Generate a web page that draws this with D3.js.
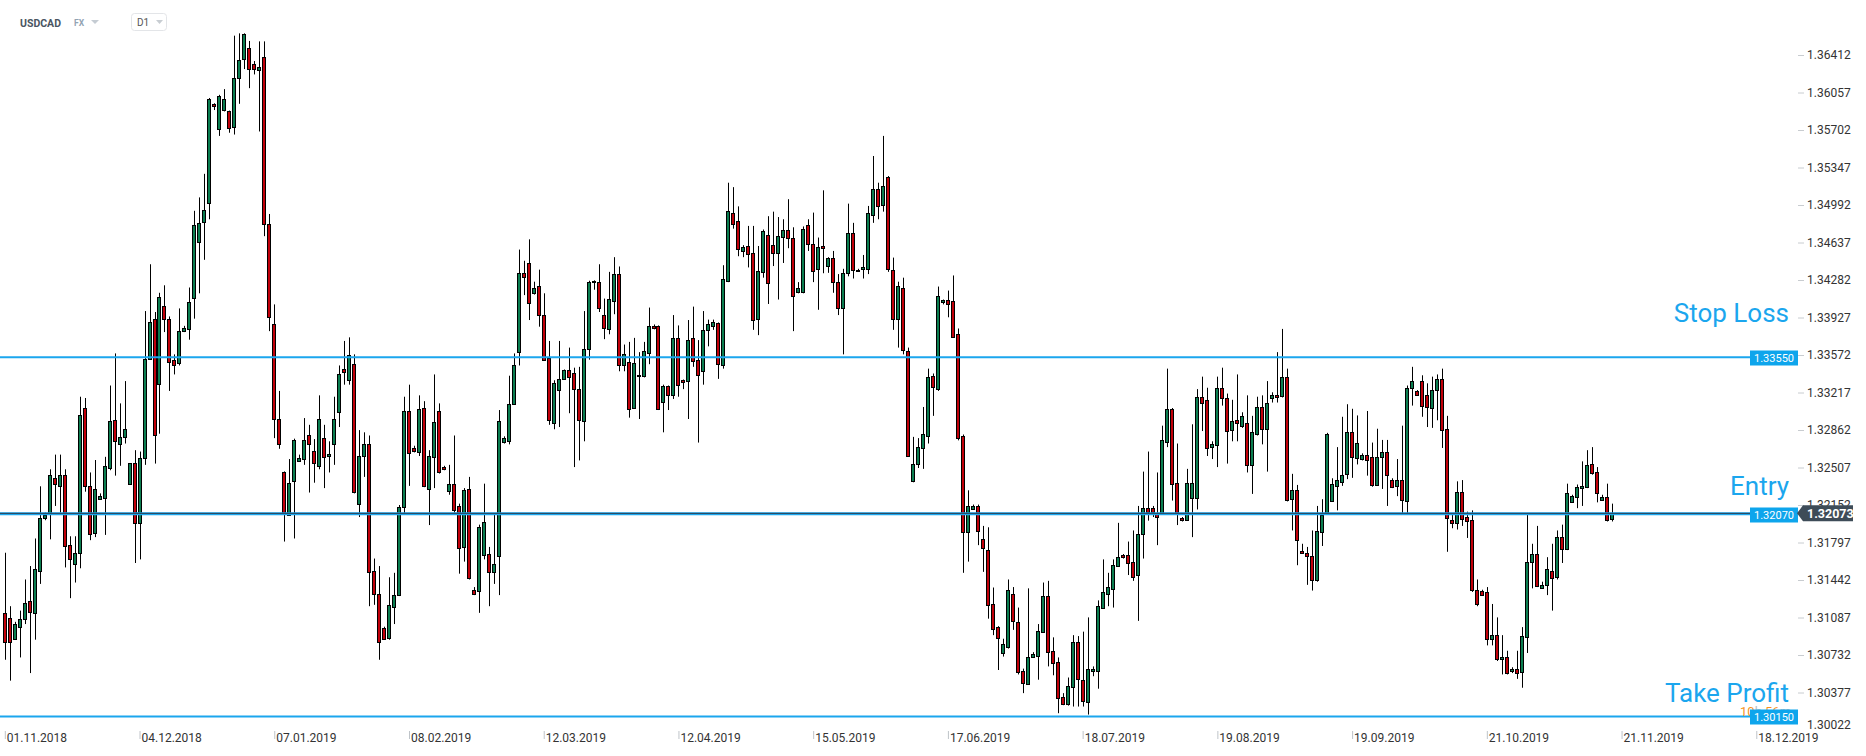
<!DOCTYPE html>
<html><head><meta charset="utf-8">
<script src="https://cdn.jsdelivr.net/npm/d3@7"></script>
<style>body{margin:0;background:#fff;overflow:hidden}svg{display:block;font-family:Roboto,"Noto Sans",sans-serif}</style>
</head><body><svg id="chart" width="1866" height="756"></svg>
<script>
// ---- data ----
const dateLabels = ["01.11.2018","04.12.2018","07.01.2019","08.02.2019","12.03.2019","12.04.2019","15.05.2019","17.06.2019","18.07.2019","19.08.2019","19.09.2019","21.10.2019","21.11.2019","18.12.2019"];
const dateTickIdx = [0,27,54,81,108,135,162,189,216,243,270,297,324,351];
const priceTicks = [1.36412,1.36057,1.35702,1.35347,1.34992,1.34637,1.34282,1.33927,1.33572,1.33217,1.32862,1.32507,1.32152,1.31797,1.31442,1.31087,1.30732,1.30377,1.30022];
const levelNames = ["Stop Loss","Entry","Take Profit"];
const levelPrices = [1.33550,1.32070,1.30150];
const lastPrice = 1.32073;

const open = [1.31131,1.31080,1.30886,1.31004,1.31067,1.31245,1.31131,1.31523,1.32034,1.32067,
1.32405,1.32333,1.32439,1.31772,1.31595,1.31700,1.33072,1.32333,1.31878,1.32211,
1.32219,1.32502,1.32954,1.32734,1.32797,1.32346,1.32549,1.31983,1.32599,1.33536,
1.33916,1.33291,1.34034,1.33916,1.33528,1.33494,1.33798,1.33819,1.34114,1.34642,
1.34823,1.35005,1.35946,1.35709,1.35887,1.35878,1.35730,1.36195,1.36368,1.36482,
1.36330,1.36266,1.36393,1.34810,1.33865,1.32966,1.32460,1.32059,1.32376,1.32574,
1.32587,1.32819,1.32667,1.32515,1.32789,1.32616,1.32734,1.33030,1.33439,1.33333,
1.33485,1.32165,1.32608,1.32726,1.31531,1.31308,1.30991,1.30890,1.31186,1.31299,
1.32131,1.33042,1.32692,1.32658,1.33072,1.32300,1.32608,1.33038,1.32511,1.32291,
1.32354,1.32143,1.31755,1.32300,1.31350,1.31342,1.31671,1.31688,1.31519,1.31666,
1.32747,1.32755,1.33114,1.33599,1.34350,1.34443,1.34156,1.34224,1.33950,1.33544,
1.32924,1.33241,1.33346,1.33430,1.33397,1.33249,1.32954,1.33629,1.34275,1.34262,
1.33950,1.33823,1.34085,1.34338,1.33473,1.33506,1.33072,1.33367,1.33367,1.33587,
1.33844,1.33844,1.33122,1.33274,1.33198,1.33734,1.33333,1.33325,1.33734,1.33523,
1.33418,1.33810,1.33840,1.33874,1.33485,1.34275,1.34916,1.34844,1.34549,1.34604,
1.34540,1.33916,1.34359,1.34705,1.34612,1.34540,1.34688,1.34751,1.34675,1.34169,
1.34169,1.34802,1.34625,1.34380,1.34604,1.34414,1.34486,1.34266,1.34021,1.34350,
1.34726,1.34380,1.34380,1.34388,1.34895,1.35140,1.34992,1.35254,1.34380,1.33916,
1.34211,1.33612,1.32376,1.32536,1.32692,1.32810,1.33376,1.33249,1.34076,1.34097,
1.34085,1.33768,1.32806,1.31899,1.32114,1.32143,1.31827,1.31730,1.31215,1.30996,
1.30751,1.30814,1.31308,1.31046,1.30582,1.30464,1.30717,1.30730,1.30953,1.31291,
1.30772,1.30666,1.30337,1.30266,1.30434,1.30856,1.30498,1.30287,1.30582,1.30574,
1.31181,1.31312,1.31363,1.31574,1.31679,1.31679,1.31608,1.31498,1.31878,1.32122,
1.32122,1.32067,1.32072,1.32747,1.33063,1.32363,1.32025,1.32017,1.32219,1.32219,
1.33177,1.33144,1.32709,1.32726,1.33262,1.33169,1.32861,1.32954,1.32903,1.32924,
1.32523,1.32831,1.33084,1.32874,1.33169,1.33198,1.33177,1.33367,1.32207,1.32291,
1.31721,1.31700,1.31671,1.31439,1.31899,1.32067,1.32194,1.32333,1.32376,1.32439,
1.32840,1.32599,1.32587,1.32629,1.32608,1.32346,1.32599,1.32650,1.32388,1.32333,
1.32388,1.32194,1.33262,1.33232,1.33325,1.33190,1.33072,1.33241,1.33346,1.32869,
1.32008,1.31983,1.32278,1.32038,1.32008,1.31350,1.31342,1.31329,1.30886,1.30920,
1.30696,1.30717,1.30582,1.30595,1.30570,1.30907,1.31616,1.31688,1.31371,1.31392,
1.31531,1.31468,1.31848,1.31730,1.32186,1.32228,1.32312,1.32321,1.32536,1.32460,
1.32202,1.32228,1.32017];

const high = [1.31700,1.31194,1.31046,1.31152,1.31447,1.31574,1.31835,1.32329,1.32080,1.32490,
1.32629,1.32629,1.32490,1.31856,1.31856,1.33177,1.33165,1.32460,1.32578,1.32262,
1.32608,1.33283,1.33587,1.33114,1.33325,1.32549,1.32671,1.32658,1.33988,1.34431,
1.33979,1.34161,1.34232,1.33937,1.33578,1.34013,1.33848,1.34211,1.34937,1.35064,
1.35287,1.36005,1.35955,1.36035,1.36089,1.35886,1.36595,1.36617,1.36617,1.36545,
1.36355,1.36541,1.36541,1.34907,1.34051,1.33232,1.32470,1.32587,1.32780,1.32629,
1.32975,1.32911,1.32776,1.33190,1.32911,1.32755,1.33177,1.33473,1.33705,1.33739,
1.33578,1.32861,1.32840,1.32810,1.31645,1.31574,1.31000,1.31468,1.31510,1.32152,
1.33177,1.33291,1.32713,1.33190,1.33135,1.32671,1.33388,1.33114,1.32523,1.32532,
1.32810,1.32165,1.32312,1.32418,1.31375,1.31966,1.32354,1.31755,1.32059,1.33051,
1.32802,1.33376,1.33587,1.34570,1.34464,1.34667,1.34266,1.34380,1.34156,1.33705,
1.33333,1.33705,1.33435,1.33642,1.33452,1.33460,1.33988,1.34275,1.34279,1.34431,
1.34106,1.34359,1.34498,1.34410,1.33671,1.33696,1.33734,1.33599,1.33696,1.34021,
1.33861,1.33852,1.33291,1.33283,1.33950,1.33852,1.33340,1.33903,1.34030,1.33713,
1.33988,1.33907,1.33907,1.33880,1.34422,1.35203,1.35161,1.34979,1.34612,1.34794,
1.34794,1.34604,1.34760,1.34886,1.34929,1.34878,1.34857,1.35047,1.34781,1.34262,
1.34789,1.34857,1.34920,1.34684,1.35131,1.34498,1.34557,1.34338,1.34388,1.35005,
1.34823,1.34388,1.34519,1.34983,1.35456,1.35203,1.35646,1.35266,1.34494,1.34266,
1.34304,1.33642,1.32797,1.32785,1.33080,1.33443,1.33397,1.34220,1.34097,1.34182,
1.34325,1.33823,1.32819,1.32291,1.32156,1.32156,1.31954,1.31941,1.31371,1.31005,
1.30886,1.31447,1.31375,1.31181,1.30603,1.31363,1.30759,1.31025,1.31418,1.31434,
1.30899,1.30709,1.30371,1.30519,1.30920,1.30911,1.30953,1.31088,1.30624,1.31249,
1.31637,1.31510,1.31637,1.31983,1.31688,1.31806,1.31911,1.32143,1.32468,1.32658,
1.32143,1.32460,1.32903,1.33443,1.33070,1.32734,1.32038,1.32494,1.32916,1.33249,
1.33367,1.33262,1.32755,1.33367,1.33452,1.33207,1.33148,1.33388,1.33030,1.33190,
1.32996,1.33177,1.33190,1.33325,1.33219,1.33599,1.33819,1.33443,1.32447,1.32342,
1.31785,1.31755,1.31911,1.32143,1.32207,1.32835,1.32405,1.32700,1.32987,1.33106,
1.33063,1.33000,1.32641,1.33042,1.32743,1.32874,1.32768,1.32768,1.32405,1.32587,
1.32903,1.33283,1.33460,1.33240,1.33380,1.33304,1.33367,1.33388,1.33443,1.32996,
1.32067,1.32376,1.32388,1.32089,1.32101,1.31447,1.31350,1.31375,1.31215,1.31088,
1.30920,1.30772,1.30616,1.30772,1.30996,1.32067,1.31785,1.31954,1.31426,1.31658,
1.31785,1.31911,1.31966,1.32354,1.32249,1.32346,1.32565,1.32671,1.32700,1.32511,
1.32249,1.32354,1.32165];

const low = [1.30687,1.30489,1.30877,1.30709,1.31025,1.30561,1.30877,1.31405,1.32008,1.31827,
1.32143,1.32080,1.31561,1.31270,1.31418,1.31553,1.32278,1.31819,1.31848,1.32202,
1.31869,1.32481,1.32430,1.32523,1.32734,1.32346,1.31603,1.31637,1.32532,1.33536,
1.32544,1.32827,1.33789,1.33232,1.33388,1.33473,1.33789,1.33717,1.33916,1.34156,
1.34473,1.34857,1.35891,1.35646,1.35878,1.35676,1.35659,1.35950,1.36279,1.36098,
1.36228,1.35688,1.34697,1.33798,1.32785,1.32684,1.31806,1.32051,1.31835,1.32565,
1.32532,1.32270,1.32363,1.32490,1.32312,1.32460,1.32532,1.32890,1.33291,1.33291,
1.32262,1.32038,1.32418,1.31194,1.31207,1.30687,1.30886,1.30877,1.31025,1.31290,
1.32059,1.32333,1.32650,1.32616,1.32321,1.31962,1.32312,1.32450,1.32481,1.32249,
1.32080,1.31502,1.31616,1.31447,1.31299,1.31131,1.31637,1.31194,1.31405,1.31299,
1.32734,1.32726,1.33106,1.33473,1.34139,1.33903,1.34144,1.33840,1.33520,1.32911,
1.32869,1.32890,1.33340,1.33021,1.32511,1.32574,1.32755,1.33528,1.34190,1.33979,
1.33722,1.33768,1.33958,1.33418,1.33418,1.32979,1.33065,1.32966,1.33360,1.33485,
1.33815,1.33051,1.32840,1.33051,1.33156,1.33177,1.33249,1.32966,1.33460,1.32743,
1.33291,1.33654,1.33810,1.33346,1.33443,1.34262,1.34768,1.34507,1.34498,1.34401,
1.33810,1.33760,1.34304,1.34055,1.34414,1.34097,1.34443,1.34583,1.33798,1.34156,
1.34156,1.34557,1.34262,1.34000,1.34346,1.34350,1.34161,1.33950,1.33578,1.34317,
1.34296,1.34359,1.34296,1.34338,1.34823,1.34857,1.34929,1.34359,1.33810,1.33642,
1.33578,1.32610,1.32367,1.32502,1.32494,1.32734,1.32996,1.33232,1.34051,1.33929,
1.33740,1.32764,1.31510,1.31616,1.32110,1.31772,1.31519,1.31076,1.30920,1.30590,
1.30717,1.30793,1.30970,1.30548,1.30371,1.30455,1.30709,1.30498,1.30945,1.30624,
1.30540,1.30181,1.30257,1.30253,1.30244,1.30244,1.30244,1.30168,1.30531,1.30413,
1.31173,1.31194,1.31181,1.31568,1.31645,1.31489,1.31434,1.31055,1.31645,1.32004,
1.32038,1.31772,1.32059,1.32700,1.32194,1.31962,1.31996,1.32004,1.31848,1.32110,
1.32852,1.32616,1.32587,1.32511,1.33093,1.32544,1.32755,1.32755,1.32882,1.32460,
1.32257,1.32810,1.32726,1.32468,1.33122,1.33122,1.33170,1.32186,1.31911,1.31582,
1.31688,1.31396,1.31342,1.31426,1.31764,1.32060,1.32186,1.32101,1.32333,1.32397,
1.32409,1.32536,1.32574,1.32430,1.32325,1.32340,1.32304,1.32143,1.32312,1.32236,
1.32067,1.32067,1.33093,1.33190,1.32987,1.32890,1.32882,1.32954,1.32692,1.31709,
1.31932,1.31920,1.31954,1.31840,1.31329,1.31194,1.31291,1.30823,1.30823,1.30675,
1.30548,1.30548,1.30561,1.30506,1.30422,1.30751,1.31363,1.31375,1.31363,1.31299,
1.31152,1.31447,1.31603,1.31725,1.32177,1.32122,1.32143,1.32312,1.32439,1.32177,
1.32194,1.31996,1.31996];

const close = [1.30856,1.30856,1.31025,1.31076,1.31223,1.31139,1.31544,1.32025,1.32059,1.32439,
1.32346,1.32439,1.31764,1.31637,1.31700,1.33008,1.32333,1.31878,1.32299,1.32236,
1.32523,1.32945,1.32755,1.32797,1.32869,1.32549,1.31983,1.32599,1.33536,1.33882,
1.32819,1.34118,1.33907,1.33506,1.33485,1.33798,1.33831,1.34072,1.34802,1.34823,
1.34941,1.35992,1.35925,1.36026,1.35992,1.35718,1.36195,1.36363,1.36608,1.36287,
1.36279,1.36296,1.34810,1.33929,1.32966,1.32726,1.32059,1.32363,1.32768,1.32599,
1.32768,1.32734,1.32553,1.32962,1.32608,1.32637,1.32966,1.33388,1.33409,1.33570,
1.32270,1.32616,1.32726,1.31510,1.31312,1.30856,1.30890,1.31207,1.31299,1.32135,
1.33042,1.32641,1.32662,1.33063,1.32333,1.32616,1.32937,1.32460,1.32494,1.32354,
1.32110,1.31743,1.32291,1.31456,1.31316,1.31945,1.31987,1.31519,1.31595,1.32945,
1.32789,1.33106,1.33481,1.34350,1.34308,1.34064,1.34203,1.33950,1.33528,1.32958,
1.33304,1.33342,1.33430,1.33367,1.33241,1.32954,1.33633,1.34262,1.34262,1.34013,
1.33823,1.34106,1.34338,1.33473,1.33578,1.33063,1.33494,1.33380,1.33608,1.33844,
1.33823,1.33063,1.33274,1.33190,1.33734,1.33291,1.33312,1.33717,1.33515,1.33380,
1.33810,1.33865,1.33882,1.33485,1.34296,1.34937,1.34815,1.34578,1.34591,1.34528,
1.33907,1.34367,1.34747,1.34253,1.34540,1.34697,1.34751,1.34675,1.34127,1.34211,
1.34768,1.34620,1.34367,1.34591,1.34583,1.34486,1.34262,1.34021,1.34350,1.34730,
1.34380,1.34367,1.34401,1.34916,1.35140,1.34983,1.35173,1.34380,1.33916,1.34224,
1.33620,1.32616,1.32536,1.32700,1.32827,1.33367,1.33270,1.34127,1.34093,1.34055,
1.33747,1.32785,1.31899,1.32143,1.32143,1.31911,1.31743,1.31207,1.30983,1.30890,
1.30835,1.31350,1.31055,1.30569,1.30464,1.30717,1.30742,1.30962,1.31291,1.30759,
1.30658,1.30329,1.30274,1.30434,1.30856,1.30506,1.30295,1.30603,1.30603,1.31194,
1.31333,1.31375,1.31586,1.31658,1.31658,1.31603,1.31468,1.31882,1.32122,1.32080,
1.32080,1.32038,1.32764,1.33063,1.32354,1.32080,1.32004,1.32363,1.32363,1.33177,
1.33123,1.32692,1.32734,1.33262,1.33165,1.32861,1.32945,1.32924,1.32996,1.32523,
1.32840,1.33084,1.32874,1.33122,1.33198,1.33177,1.33359,1.32207,1.32291,1.31814,
1.31700,1.31667,1.31447,1.31903,1.32059,1.32827,1.32354,1.32388,1.32439,1.32840,
1.32608,1.32743,1.32629,1.32578,1.32346,1.32608,1.32650,1.32430,1.32325,1.32388,
1.32194,1.33262,1.33325,1.33198,1.33093,1.33072,1.33241,1.33346,1.32861,1.32025,
1.31983,1.32278,1.32025,1.31996,1.31350,1.31215,1.31308,1.30886,1.30920,1.30696,
1.30717,1.30561,1.30603,1.30561,1.30911,1.31616,1.31688,1.31384,1.31396,1.31544,
1.31468,1.31848,1.31730,1.32262,1.32240,1.32321,1.32333,1.32532,1.32451,1.32262,
1.32228,1.32008,1.32073];

// ---- chart ----
const svg = d3.select("#chart");
svg.append("rect").attr("width",1866).attr("height",756).attr("fill","#fff");

const x = d3.scaleLinear().domain([0, 351]).range([4.8, 4.8 + 351 * 4.99]);
const y = d3.scaleLinear().domain([1.30022, 1.36412]).range([730, 55]);

const GREEN = "#0b7d50", RED = "#c1000a", BLUE = "#1ba6ee";

// header
const hdr = svg.append("g");
hdr.append("text").attr("x",20).attr("y",26.5).attr("font-size",10.5).attr("font-weight",700).attr("fill","#4a5562").text("USDCAD");
hdr.append("text").attr("x",74).attr("y",26).attr("font-size",8.5).attr("font-weight",700).attr("fill","#93a3b3").text("FX");
hdr.append("path").attr("d","M91,20L99,20L95,24Z").attr("fill","#c5ccd3");
hdr.append("rect").attr("x",131.5).attr("y",13.5).attr("width",35).attr("height",17).attr("rx",3).attr("fill","none").attr("stroke","#e3e5e8");
hdr.append("text").attr("x",137).attr("y",26).attr("font-size",10).attr("fill","#555").text("D1");
hdr.append("path").attr("d","M156,20L163,20L159.5,24Z").attr("fill","#c8cdd2");

// candles
const idx = d3.range(close.length);
const cg = svg.append("g");
const candle = cg.selectAll("g.c").data(idx).join("g").attr("class","c");
candle.append("line")
  .attr("x1", i => Math.round(x(i)) + 0.5).attr("x2", i => Math.round(x(i)) + 0.5)
  .attr("y1", i => y(high[i])).attr("y2", i => y(low[i]))
  .attr("stroke","#000").attr("stroke-width",1);
candle.append("rect")
  .attr("x", i => Math.round(x(i)) - 1.5)
  .attr("width", 3)
  .attr("y", i => Math.round(y(Math.max(open[i], close[i]))) + 0.5)
  .attr("height", i => Math.max(1, Math.round(Math.abs(y(open[i]) - y(close[i])))))
  .attr("fill", i => close[i] >= open[i] ? GREEN : RED)
  .attr("stroke","#000").attr("stroke-width",1);

// x axis
const xAxis = d3.axisBottom(x).tickValues(dateTickIdx).tickFormat((d,i) => dateLabels[i]).tickSize(8);
const gx = svg.append("g").attr("transform","translate(0,731)").call(xAxis);
gx.select(".domain").remove();
gx.selectAll(".tick line").attr("stroke","#bfc4c9");
gx.selectAll(".tick text").attr("text-anchor","start").attr("x",1.5).attr("y",2).attr("dy","0.71em")
  .attr("font-size",12).attr("font-family","Roboto").attr("fill","#333");

// y axis
const yAxis = d3.axisRight(y).tickValues(priceTicks).tickFormat(d3.format(".5f")).tickSize(6).tickPadding(3);
const gy = svg.append("g").attr("transform","translate(1798,0)").call(yAxis);
gy.select(".domain").remove();
gy.selectAll(".tick line").attr("stroke","#c8ccd0");
gy.selectAll(".tick text").attr("font-size",12).attr("font-family","Roboto").attr("fill","#333");
gy.selectAll(".tick").filter(d => d === priceTicks[priceTicks.length-1])
  .attr("transform", "translate(0,725)").select("line").remove();

// level lines
const lg = svg.append("g");
lg.selectAll("line.lv").data(levelPrices).join("line").attr("class","lv")
  .attr("x1",0).attr("x2",1750)
  .attr("y1", d => y(d)).attr("y2", d => y(d))
  .attr("stroke", BLUE).attr("stroke-width", (d,i) => i === 1 ? 3 : 2);
lg.append("line").attr("x1",0).attr("x2",1798).attr("y1",y(lastPrice)).attr("y2",y(lastPrice))
  .attr("stroke","#2f3f4d").attr("stroke-width",1);

// level names
lg.selectAll("text.nm").data(levelPrices).join("text").attr("class","nm")
  .attr("x",1789).attr("y", d => y(d) - 35 + (d === levelPrices[2] ? 21 : 0) + (d === levelPrices[1] ? 16 : 0))
  .attr("text-anchor","end").attr("font-size",26).attr("font-family","Roboto").attr("fill",BLUE)
  .text((d,i) => levelNames[i]);

// countdown
const cd = lg.append("text").attr("x",1740).attr("y",716).attr("font-size",13).attr("font-family","Roboto");
cd.append("tspan").attr("fill","#f7931e").text("10");
cd.append("tspan").attr("fill","#b8bec4").text("h ");
cd.append("tspan").attr("fill","#f7931e").text("56");
cd.append("tspan").attr("fill","#b8bec4").text("m");

// level price boxes
const box = lg.selectAll("g.bx").data(levelPrices).join("g").attr("class","bx")
  .attr("transform", d => `translate(1750,${Math.round(y(d)) - 6.5})`);
box.append("rect").attr("width",48).attr("height",15).attr("fill","#0ea5ec");
box.append("text").attr("x",24).attr("y",11.3).attr("text-anchor","middle").attr("font-size",11)
  .attr("font-family","Roboto").attr("fill","#fff").text(d => d3.format(".5f")(d));

// current price tag
const ly = y(lastPrice);
lg.append("path").attr("d",`M1797,${ly}L1803,${ly-8}L1853,${ly-8}L1853,${ly+8}L1803,${ly+8}Z`).attr("fill","#3e4c58");
lg.append("text").attr("x",1807).attr("y",ly+4.5).attr("font-size",12.5).attr("font-weight",700)
  .attr("font-family","Roboto").attr("fill","#fff").text(d3.format(".5f")(lastPrice));
</script></body></html>
